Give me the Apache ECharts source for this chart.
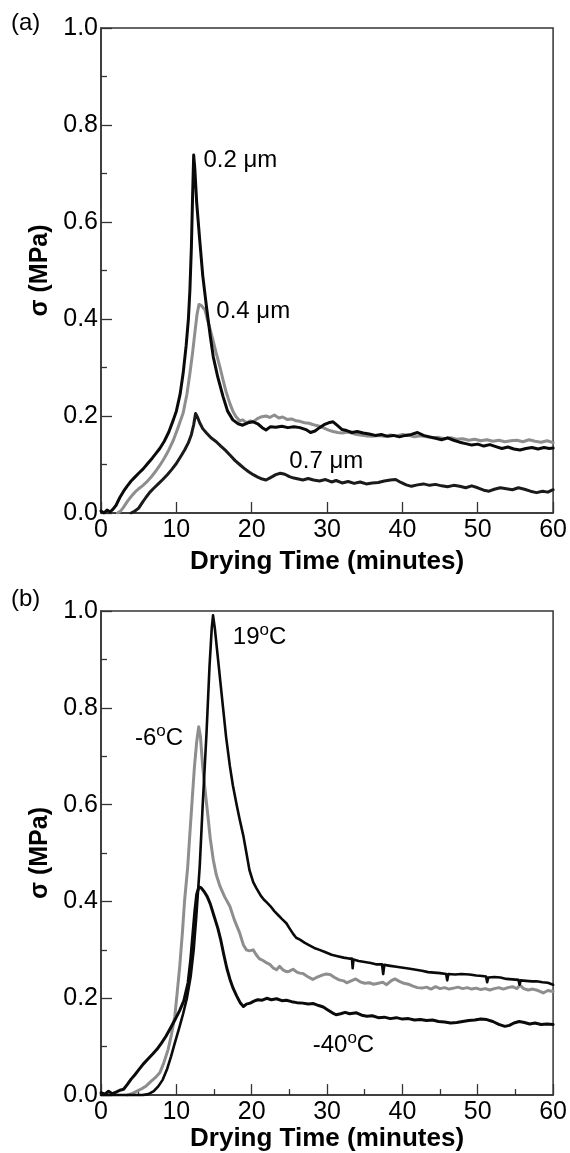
<!DOCTYPE html>
<html>
<head>
<meta charset="utf-8">
<script src="https://cdn.jsdelivr.net/npm/echarts@6/dist/echarts.min.js"></script>
<style>
html,body{margin:0;padding:0;background:#fff;}
#chart{width:570px;height:1153px;}
</style>
</head>
<body>
<div id="chart"></div>
<script>
// ---- Data ----
const xTicks = [0, 10, 20, 30, 40, 50, 60];
const yTicks = [0.0, 0.2, 0.4, 0.6, 0.8, 1.0];
const xTitle = 'Drying Time (minutes)';
const yTitle = 'σ (MPa)';

// Panel (a): particle size
const a_02um = [[0,0.004],[0.4,0.0],[0.8,0.006],[1.2,0.002],[1.6,0.008],[2.0,0.016],[2.5,0.032],[3.0,0.045],[3.5,0.056],[4.0,0.066],[4.5,0.074],[5.0,0.082],[5.6,0.091],[6.2,0.102],[6.8,0.113],[7.4,0.125],[7.8,0.133],[8.4,0.148],[9.0,0.167],[9.6,0.192],[10.0,0.21],[10.5,0.245],[10.9,0.288],[11.3,0.345],[11.6,0.4],[11.8,0.46],[12.0,0.55],[12.15,0.65],[12.3,0.738],[12.45,0.71],[12.7,0.64],[13.1,0.563],[13.5,0.49],[14.0,0.425],[14.5,0.365],[14.9,0.322],[15.5,0.28],[16.2,0.24],[16.8,0.21],[17.5,0.192],[18.2,0.184],[18.8,0.181],[19.5,0.186],[20.2,0.188],[20.8,0.184],[21.4,0.176],[21.9,0.171],[22.5,0.178],[23.2,0.177],[24.0,0.179],[24.8,0.176],[25.6,0.178],[26.4,0.176],[27.2,0.172],[27.8,0.166],[28.4,0.169],[29.0,0.176],[29.6,0.182],[30.2,0.186],[30.8,0.188],[31.4,0.18],[32.0,0.172],[32.6,0.17],[33.3,0.166],[34.0,0.168],[34.8,0.165],[35.6,0.163],[36.4,0.16],[37.2,0.162],[38.0,0.158],[38.8,0.16],[39.6,0.157],[40.4,0.16],[41.2,0.162],[42.0,0.166],[42.8,0.16],[43.6,0.157],[44.4,0.154],[45.2,0.151],[46.0,0.155],[46.8,0.15],[47.6,0.146],[48.4,0.143],[49.2,0.14],[50.0,0.142],[50.8,0.138],[51.6,0.141],[52.4,0.137],[53.2,0.133],[54.0,0.136],[54.8,0.132],[55.6,0.13],[56.4,0.133],[57.2,0.135],[58.0,0.132],[58.8,0.135],[59.5,0.133],[60,0.134]];
const a_04um = [[2.2,0.0],[2.6,0.004],[3.0,0.012],[3.5,0.024],[4.0,0.034],[4.5,0.043],[5.0,0.05],[5.5,0.056],[6.0,0.063],[6.6,0.073],[7.2,0.085],[7.8,0.098],[8.4,0.113],[9.0,0.13],[9.6,0.15],[10.2,0.175],[10.9,0.206],[11.4,0.245],[11.8,0.288],[12.15,0.33],[12.45,0.371],[12.75,0.41],[13.0,0.43],[13.3,0.428],[13.8,0.419],[14.1,0.4],[14.4,0.384],[14.8,0.36],[15.3,0.329],[15.8,0.3],[16.2,0.274],[16.6,0.25],[17.1,0.226],[17.5,0.21],[17.9,0.199],[18.4,0.19],[18.8,0.192],[19.3,0.186],[19.8,0.19],[20.2,0.188],[20.7,0.194],[21.2,0.198],[21.9,0.2],[22.4,0.197],[23.0,0.202],[23.6,0.196],[24.1,0.198],[24.7,0.193],[25.3,0.194],[25.9,0.19],[26.4,0.189],[27.0,0.186],[27.6,0.185],[28.2,0.182],[29.0,0.179],[29.6,0.175],[30.2,0.171],[30.8,0.168],[31.4,0.166],[32.0,0.165],[32.8,0.167],[33.6,0.163],[34.4,0.161],[35.2,0.159],[36.0,0.158],[36.8,0.16],[37.6,0.158],[38.4,0.161],[39.2,0.159],[40.0,0.162],[40.8,0.16],[41.6,0.157],[42.4,0.159],[43.2,0.157],[44.0,0.155],[44.8,0.156],[45.6,0.153],[46.4,0.155],[47.2,0.152],[48.0,0.153],[48.8,0.15],[49.6,0.152],[50.4,0.149],[51.2,0.151],[52.0,0.148],[52.8,0.15],[53.6,0.147],[54.4,0.149],[55.2,0.15],[56.0,0.147],[56.8,0.151],[57.6,0.148],[58.4,0.146],[59.2,0.149],[60,0.145]];
const a_07um = [[4.0,0.0],[4.5,0.004],[5.0,0.01],[5.5,0.022],[6.0,0.033],[6.5,0.043],[7.0,0.051],[7.6,0.06],[8.2,0.069],[8.8,0.079],[9.4,0.09],[10.0,0.102],[10.6,0.117],[11.1,0.13],[11.6,0.145],[12.0,0.162],[12.3,0.182],[12.55,0.205],[12.8,0.198],[13.1,0.186],[13.5,0.174],[14.0,0.165],[14.6,0.155],[15.3,0.147],[15.9,0.138],[16.6,0.128],[17.2,0.118],[17.8,0.108],[18.4,0.1],[19.0,0.092],[19.6,0.085],[20.2,0.079],[20.8,0.074],[21.4,0.07],[21.9,0.068],[22.5,0.073],[23.2,0.079],[23.8,0.082],[24.4,0.08],[25.0,0.075],[25.6,0.072],[26.2,0.07],[26.8,0.068],[27.5,0.071],[28.2,0.068],[29.0,0.066],[29.8,0.069],[30.6,0.064],[31.2,0.067],[32.0,0.062],[32.8,0.065],[33.6,0.061],[34.4,0.064],[35.2,0.06],[36.0,0.062],[36.8,0.063],[37.6,0.066],[38.4,0.068],[39.1,0.069],[39.8,0.063],[40.5,0.058],[41.2,0.055],[42.0,0.058],[42.8,0.06],[43.6,0.057],[44.4,0.059],[45.2,0.056],[46.0,0.054],[46.8,0.057],[47.6,0.055],[48.4,0.052],[49.2,0.056],[50.0,0.052],[50.8,0.047],[51.5,0.045],[52.2,0.049],[53.0,0.052],[53.8,0.05],[54.6,0.048],[55.4,0.052],[56.2,0.049],[57.0,0.045],[57.8,0.042],[58.6,0.045],[59.3,0.043],[60,0.048]];

// Panel (b): temperature
const b_19C = [[0,0.0],[3.0,0.0],[5.5,0.0],[6.3,0.002],[7.0,0.008],[7.6,0.018],[8.2,0.032],[8.8,0.055],[9.3,0.08],[9.8,0.108],[10.4,0.14],[10.9,0.168],[11.4,0.2],[11.9,0.245],[12.3,0.3],[12.65,0.369],[13.1,0.472],[13.5,0.6],[14.0,0.747],[14.4,0.885],[14.7,0.965],[14.87,0.991],[15.1,0.965],[15.4,0.92],[15.8,0.86],[16.2,0.8],[16.6,0.74],[17.1,0.68],[17.5,0.64],[18.0,0.6],[18.4,0.57],[18.9,0.535],[19.3,0.5],[19.7,0.465],[20.2,0.44],[20.6,0.428],[21.2,0.412],[21.6,0.404],[22.0,0.398],[22.5,0.39],[23.0,0.38],[23.5,0.372],[24.0,0.364],[24.6,0.355],[25.0,0.345],[25.5,0.333],[25.9,0.325],[26.4,0.321],[27.0,0.315],[27.6,0.31],[28.3,0.304],[29.0,0.3],[29.8,0.295],[30.6,0.29],[31.4,0.287],[32.2,0.284],[32.9,0.282],[33.3,0.282],[33.4,0.262],[33.5,0.28],[34.2,0.277],[35.0,0.275],[35.8,0.273],[36.6,0.27],[37.3,0.27],[37.45,0.25],[37.6,0.269],[38.4,0.267],[39.2,0.265],[40.1,0.263],[41.0,0.261],[41.8,0.259],[42.6,0.257],[43.4,0.254],[44.2,0.253],[45.0,0.252],[45.8,0.25],[45.95,0.237],[46.1,0.25],[47.0,0.249],[47.8,0.25],[48.9,0.249],[49.8,0.247],[50.6,0.246],[51.1,0.245],[51.25,0.233],[51.4,0.243],[52.2,0.244],[53.0,0.243],[53.8,0.24],[54.6,0.239],[55.4,0.238],[55.55,0.228],[55.7,0.237],[56.4,0.236],[57.2,0.235],[57.8,0.235],[58.6,0.233],[59.3,0.232],[60,0.228]];
const b_m6C = [[3.5,0.0],[4.25,0.004],[5.0,0.01],[5.5,0.014],[6.0,0.019],[6.6,0.028],[7.2,0.036],[7.8,0.046],[8.3,0.065],[8.9,0.094],[9.35,0.125],[9.8,0.163],[10.1,0.21],[10.45,0.266],[10.8,0.335],[11.1,0.403],[11.5,0.47],[11.8,0.541],[12.1,0.61],[12.4,0.678],[12.7,0.73],[12.97,0.761],[13.2,0.74],[13.5,0.678],[13.85,0.625],[14.2,0.575],[14.5,0.53],[14.9,0.486],[15.3,0.455],[15.8,0.431],[16.4,0.41],[17.1,0.39],[17.7,0.362],[18.4,0.335],[18.9,0.31],[19.3,0.3],[19.7,0.298],[20.2,0.3],[20.6,0.29],[21.0,0.282],[21.5,0.278],[22.0,0.273],[22.4,0.27],[22.9,0.262],[23.3,0.259],[23.7,0.266],[24.2,0.258],[24.6,0.255],[25.0,0.256],[25.5,0.26],[26.0,0.254],[26.4,0.252],[26.8,0.251],[27.4,0.245],[28.1,0.239],[28.6,0.243],[29.2,0.247],[29.8,0.25],[30.4,0.249],[31.0,0.243],[31.6,0.238],[32.2,0.236],[32.6,0.232],[33.2,0.236],[33.8,0.24],[34.4,0.234],[35.0,0.231],[35.6,0.232],[36.2,0.229],[36.8,0.231],[37.4,0.233],[37.9,0.228],[38.5,0.236],[39.0,0.24],[39.6,0.235],[40.2,0.231],[40.8,0.229],[41.4,0.225],[42.0,0.222],[42.6,0.221],[43.2,0.223],[43.8,0.219],[44.4,0.224],[45.0,0.22],[45.6,0.222],[46.2,0.219],[46.8,0.221],[47.4,0.223],[48.0,0.22],[48.6,0.222],[49.2,0.219],[49.8,0.221],[50.4,0.218],[51.0,0.22],[51.6,0.217],[52.2,0.22],[52.8,0.222],[53.4,0.219],[54.0,0.222],[54.6,0.224],[55.2,0.22],[55.6,0.227],[56.1,0.22],[56.7,0.217],[57.3,0.219],[58.0,0.216],[58.7,0.211],[59.3,0.216],[60,0.214]];
const b_m40C = [[0,0.005],[0.5,0.002],[1.0,0.008],[1.5,0.003],[2.0,0.006],[2.5,0.01],[3.0,0.012],[3.5,0.022],[4.0,0.033],[4.5,0.042],[5.0,0.052],[5.6,0.064],[6.2,0.074],[6.8,0.084],[7.4,0.094],[8.0,0.107],[8.6,0.121],[9.1,0.135],[9.8,0.155],[10.45,0.175],[11.0,0.195],[11.55,0.232],[11.9,0.28],[12.2,0.335],[12.45,0.38],[12.7,0.415],[13.0,0.43],[13.3,0.428],[13.7,0.42],[14.1,0.41],[14.5,0.395],[15.0,0.37],[15.5,0.345],[15.9,0.32],[16.3,0.29],[16.7,0.262],[17.1,0.24],[17.5,0.222],[18.0,0.205],[18.5,0.19],[18.9,0.183],[19.3,0.188],[19.8,0.19],[20.3,0.194],[20.8,0.197],[21.4,0.196],[22.0,0.2],[22.6,0.197],[23.3,0.199],[24.0,0.195],[24.6,0.196],[25.3,0.193],[26.0,0.191],[26.8,0.19],[27.5,0.188],[28.2,0.189],[28.9,0.185],[29.5,0.182],[30.1,0.176],[30.7,0.17],[31.2,0.166],[31.8,0.168],[32.4,0.171],[33.0,0.168],[33.9,0.17],[34.6,0.165],[35.3,0.163],[36.0,0.164],[36.8,0.16],[37.6,0.161],[38.4,0.158],[39.2,0.16],[40.0,0.157],[40.8,0.158],[41.6,0.155],[42.4,0.156],[43.2,0.154],[44.0,0.155],[44.8,0.152],[45.6,0.151],[46.4,0.149],[47.2,0.15],[48.0,0.152],[48.8,0.154],[49.6,0.155],[50.4,0.157],[51.2,0.156],[52.0,0.152],[52.8,0.146],[53.6,0.142],[54.2,0.144],[54.8,0.149],[55.5,0.152],[56.2,0.15],[56.9,0.147],[57.6,0.149],[58.4,0.146],[59.2,0.147],[60,0.146]];

// Curve annotations: [x (min), y (MPa), text]
const notesA = [[13.6, 0.728, '0.2 μm'], [15.3, 0.416, '0.4 μm'], [25.0, 0.107, '0.7 μm']];
const notesB = [[17.5, 0.946, '19{s|o}C'], [4.5, 0.737, '-6{s|o}C'], [28.1, 0.102, '-40{s|o}C']];

// ---- Chart ----
const FONT = '"Liberation Sans", Arial, Helvetica, sans-serif';
const INK = '#000';
const GRAY = '#8e8e8e';

function xAxisCfg(gridIndex, minor, gap) {
  return {
    type: 'value', gridIndex: gridIndex, min: xTicks[0], max: xTicks[xTicks.length - 1], interval: 10,
    name: xTitle, nameLocation: 'middle', nameGap: gap,
    nameTextStyle: { fontFamily: FONT, fontSize: 26, fontWeight: 'bold', color: INK },
    axisLine: { show: true, onZero: false, lineStyle: { color: '#333', width: 1.5 } },
    axisTick: { show: true, inside: true, length: 11, lineStyle: { color: '#333', width: 1.3 } },
    minorTick: { show: minor, splitNumber: 2, length: 6, lineStyle: { color: '#333', width: 1.3 } },
    splitLine: { show: false },
    axisLabel: { fontFamily: FONT, fontSize: 25, color: INK, margin: 5 }
  };
}
function yAxisCfg(gridIndex) {
  return {
    type: 'value', gridIndex: gridIndex, min: yTicks[0], max: yTicks[yTicks.length - 1], interval: 0.2,
    name: yTitle, nameLocation: 'middle', nameGap: 48, nameRotate: 90,
    nameTextStyle: { fontFamily: FONT, fontSize: 25, fontWeight: 'bold', color: INK },
    axisLine: { show: true, onZero: false, lineStyle: { color: '#333', width: 1.5 } },
    axisTick: { show: true, inside: true, length: 11, lineStyle: { color: '#333', width: 1.3 } },
    minorTick: { show: true, splitNumber: 2, length: 6, lineStyle: { color: '#333', width: 1.3 } },
    splitLine: { show: false },
    axisLabel: { fontFamily: FONT, fontSize: 25, color: INK, margin: 3, formatter: v => v.toFixed(1) }
  };
}
function lineSeries(data, idx, color, width) {
  return {
    type: 'line', xAxisIndex: idx, yAxisIndex: idx, data: data, showSymbol: false, symbol: 'none',
    smooth: false, silent: true, animation: false,
    lineStyle: { color: color, width: width, join: 'round', cap: 'round' }
  };
}
function noteSeries(notes, idx) {
  return {
    type: 'scatter', xAxisIndex: idx, yAxisIndex: idx, symbolSize: 0, silent: true, animation: false,
    itemStyle: { opacity: 1 },
    data: notes.map(n => ({ value: [n[0], n[1]], name: n[2] })),
    label: {
      show: true, position: 'right', distance: 0, color: INK, opacity: 1,
      formatter: p => '{n|' + p.name.replace(/\{s\|o\}/g, '}{s|o}{n|') + '}',
      rich: {
        n: { fontFamily: FONT, fontSize: 24, color: INK },
        s: { fontFamily: FONT, fontSize: 17, color: INK, padding: [0, 0, 14, 0] }
      }
    }
  };
}

const chart = echarts.init(document.getElementById('chart'), null, { renderer: 'canvas' });
chart.setOption({
  backgroundColor: '#fff',
  animation: false,
  grid: [
    { left: 101, top: 28, width: 453, height: 485, show: true, borderColor: '#333', borderWidth: 1.5, backgroundColor: 'transparent' },
    { left: 101, top: 611, width: 453, height: 485, show: true, borderColor: '#333', borderWidth: 1.5, backgroundColor: 'transparent' }
  ],
  xAxis: [xAxisCfg(0, false, 36), xAxisCfg(1, true, 29)],
  yAxis: [yAxisCfg(0), yAxisCfg(1)],
  graphic: [
    { type: 'text', left: 11, top: 11, style: { text: '(a)', font: '24px ' + FONT, fill: INK } },
    { type: 'text', left: 11, top: 587, style: { text: '(b)', font: '24px ' + FONT, fill: INK } }
  ],
  series: [
    lineSeries(a_07um, 0, '#1a1a1a', 3),
    lineSeries(a_04um, 0, GRAY, 3),
    lineSeries(a_02um, 0, '#0a0a0a', 3),
    noteSeries(notesA, 0),
    lineSeries(b_m6C, 1, GRAY, 3),
    lineSeries(b_m40C, 1, '#0a0a0a', 3),
    lineSeries(b_19C, 1, '#0a0a0a', 2.6),
    noteSeries(notesB, 1)
  ]
});
</script>
</body>
</html>
